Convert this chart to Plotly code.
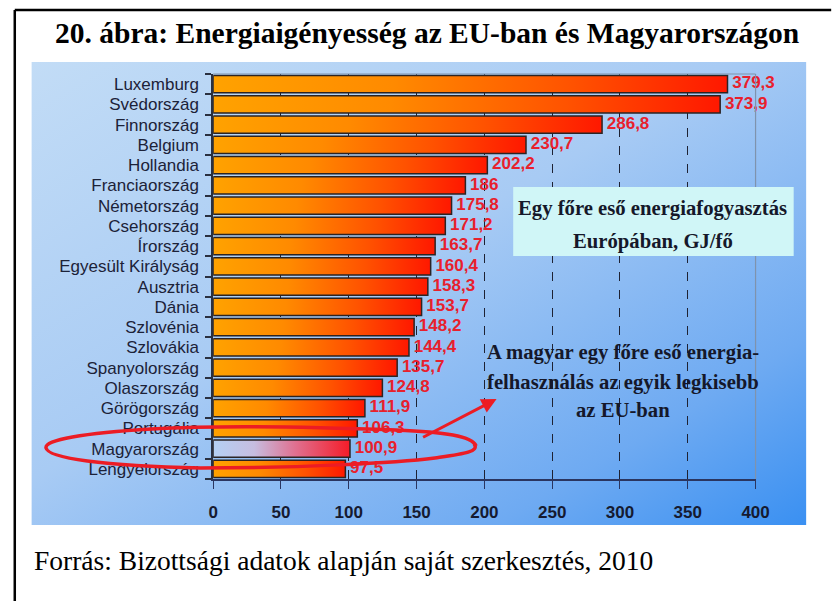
import base64
import plotly.graph_objects as go

countries = ["Luxemburg", "Svédország", "Finnország", "Belgium", "Hollandia",
             "Franciaország", "Németország", "Csehország", "Írország",
             "Egyesült Királyság", "Ausztria", "Dánia", "Szlovénia", "Szlovákia",
             "Spanyolország", "Olaszország", "Görögország", "Portugália",
             "Magyarország", "Lengyelország"]
values = [379.3, 373.9, 286.8, 230.7, 202.2, 186, 175.8, 171.2, 163.7, 160.4,
          158.3, 153.7, 148.2, 144.4, 135.7, 124.8, 111.9, 106.3, 100.9, 97.5]
x_ticks = [0, 50, 100, 150, 200, 250, 300, 350, 400]
highlight = "Magyarország"

W, H = 837, 601


def px(x):
    return x / W


def py(y):
    return 1 - y / H


fig = go.Figure()

normal_scale = [[0, "#ffa200"], [0.35, "#ff8a00"], [0.7, "#ff5200"], [1, "#ff1800"]]
hu_scale = [[0, "#b4d0f4"], [0.3, "#c6bde0"], [0.6, "#e07090"], [1, "#f41c28"]]

half = 0.42
for i, (c, v) in enumerate(zip(countries, values)):
    fig.add_trace(go.Scatter(
        x=[0, v, v, 0, 0],
        y=[i - half, i - half, i + half, i + half, i - half],
        mode="lines", fill="toself",
        fillgradient=dict(type="horizontal",
                          colorscale=hu_scale if c == highlight else normal_scale),
        line=dict(color="#2b2424", width=1.5),
        hoverinfo="skip", showlegend=False))

labels = [" " + f"{v:g}".replace(".", ",") for v in values]
fig.add_trace(go.Scatter(
    x=values, y=list(range(len(values))), mode="text", text=labels,
    textposition="middle right",
    textfont=dict(family="Liberation Sans", size=17, color="#e8202c", weight="bold"),
    cliponaxis=False, hoverinfo="skip", showlegend=False))

# background gradient image
svg = ('<svg xmlns="http://www.w3.org/2000/svg" width="800" height="470" viewBox="0 0 800 470" '
       'preserveAspectRatio="none"><defs><linearGradient id="g" x1="0" y1="0" x2="1" y2="1">'
       '<stop offset="0" stop-color="#c2dcf6"/><stop offset="0.45" stop-color="#a8cbf4"/>'
       '<stop offset="0.8" stop-color="#6eaaf2"/><stop offset="1" stop-color="#3a90f2"/>'
       '</linearGradient></defs><rect width="800" height="470" fill="url(#g)"/></svg>')
src = "data:image/svg+xml;base64," + base64.b64encode(svg.encode()).decode()

fig.update_layout(
    width=W, height=H, margin=dict(l=0, r=0, t=0, b=0),
    paper_bgcolor="white", plot_bgcolor="rgba(0,0,0,0)",
    images=[dict(source=src, xref="paper", yref="paper", x=px(27), y=py(62),
                 sizex=px(820 - 27), sizey=(525 - 62) / H, sizing="stretch",
                 xanchor="left", yanchor="top", layer="below")],
    xaxis=dict(domain=[px(213), px(768)], range=[0, 400], tickvals=x_ticks,
               ticks="outside", ticklen=8, tickcolor="#2a3560", tickwidth=1,
               showline=True, linecolor="#2a3560", linewidth=2,
               showgrid=True, gridcolor="#1e2233", griddash="dash", gridwidth=1,
               zeroline=False, ticklabelstandoff=9,
               tickfont=dict(family="Liberation Sans", size=17, color="#151a30", weight="bold")),
    yaxis=dict(domain=[py(479), py(74)], range=[len(values) - 0.5, -0.5],
               tickvals=list(range(len(countries))), ticktext=countries, ticks="",
               showline=True, linecolor="#2a3040", linewidth=1.5,
               showgrid=False, zeroline=False, ticklabelstandoff=9,
               minor=dict(tickvals=[k - 0.5 for k in range(len(countries) + 1)],
                          ticks="outside", ticklen=6, tickcolor="#2a3040", tickwidth=1.5,
                          showgrid=False),
               tickfont=dict(family="Liberation Sans", size=17, color="#1c2238")),
)

shapes = []
# frame top / right (gray)
shapes.append(dict(type="line", xref="x domain", yref="y domain", x0=0, x1=1, y0=1, y1=1,
                   line=dict(color="#7f93ad", width=1), layer="above"))
shapes.append(dict(type="line", xref="x domain", yref="y domain", x0=1, x1=1, y0=0, y1=1,
                   line=dict(color="#7f93ad", width=1.2), layer="above"))
# outer border
shapes.append(dict(type="line", xref="paper", yref="paper", x0=px(10), x1=px(10), y0=py(10), y1=0,
                   line=dict(color="black", width=2.5)))
shapes.append(dict(type="line", xref="paper", yref="paper", x0=px(10), x1=1.01, y0=py(10), y1=py(10),
                   line=dict(color="black", width=2.5)))
# info box
shapes.append(dict(type="rect", xref="paper", yref="paper", x0=px(520), x1=px(807),
                   y0=py(256), y1=py(187), fillcolor="#d0f6f7", line=dict(width=0)))

# hand drawn ellipse
pts = [("M", [(482, 446)]),
       ("C", [(478, 436), (450, 432), (400, 430)]),
       ("C", [(320, 427), (220, 425), (150, 429)]),
       ("C", [(80, 433), (40, 440), (42, 448)]),
       ("C", [(44, 458), (100, 466), (200, 468)]),
       ("C", [(300, 468), (400, 463), (440, 458)]),
       ("C", [(468, 454), (486, 452), (480, 444)])]
path = " ".join(cmd + " " + " ".join(f"{px(a):.5f},{py(b):.5f}" for a, b in p) for cmd, p in pts)
shapes.append(dict(type="path", xref="paper", yref="paper", path=path,
                   line=dict(color="#ec1c24", width=3.5)))
fig.update_layout(shapes=shapes)

annos = []
serif = "Liberation Serif"


def text_anno(txt, x, y, size, xanchor="center", color="#15182a"):
    return dict(x=px(x), y=py(y), xref="paper", yref="paper", showarrow=False,
                xanchor=xanchor, yanchor="middle", text=txt,
                font=dict(family=serif, size=size, color=color))


annos.append(text_anno("<b>20. ábra: Energiaigényesség az EU-ban és Magyarországon</b>",
                       432, 33, 29.5, color="black"))
annos.append(text_anno("Forrás: Bizottsági adatok alapján saját szerkesztés, 2010",
                       28, 560, 27.5, xanchor="left", color="black"))
for txt, yy in [("Egy főre eső energiafogyasztás", 208), ("Európában, GJ/fő", 241)]:
    annos.append(text_anno(f"<b>{txt}</b>", 663, yy, 20.7))
for txt, yy in [("A magyar egy főre eső energia-", 352),
                ("felhasználás az egyik legkisebb", 382),
                ("az EU-ban", 410)]:
    annos.append(text_anno(f"<b>{txt}</b>", 632, yy, 20.7))
annos.append(dict(x=px(503), y=py(399), xref="paper", yref="paper", showarrow=True,
                  ax=-75, ay=39, arrowhead=2, arrowsize=1, arrowwidth=3, arrowcolor="#ec1c24",
                  text=""))
fig.update_layout(annotations=annos)

fig.write_html("out.html", config={"displayModeBar": False},
               post_script="document.body.style.margin='0';")
